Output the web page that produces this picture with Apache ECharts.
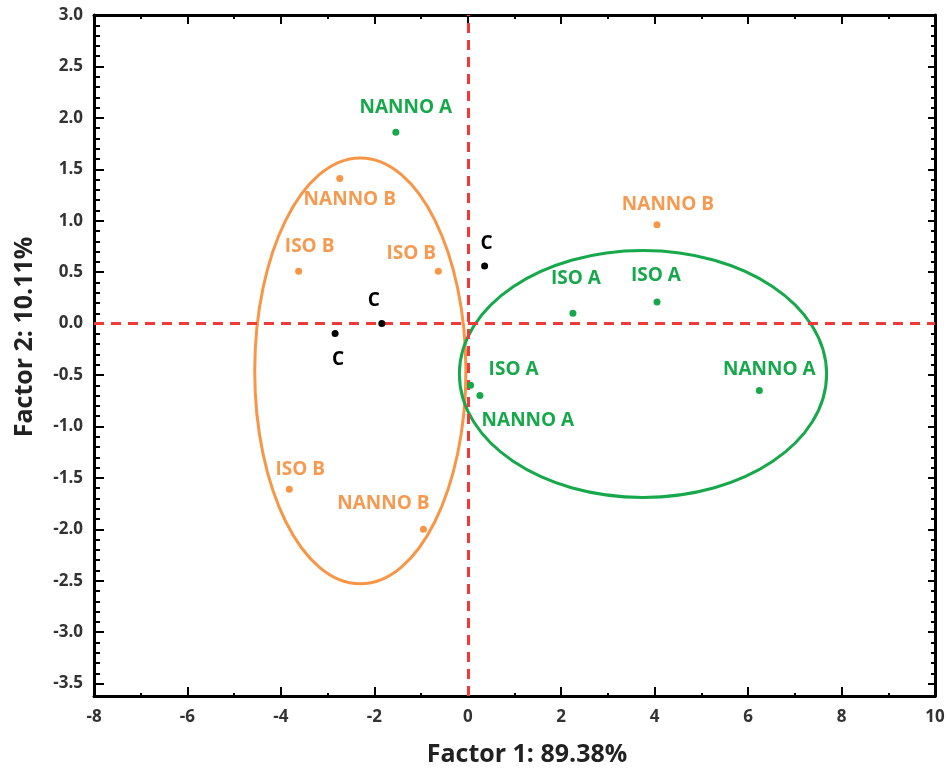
<!DOCTYPE html>
<html>
<head>
<meta charset="utf-8">
<script src="https://cdn.jsdelivr.net/npm/echarts@6/dist/echarts.min.js"></script>
<style>
html,body{margin:0;padding:0;background:#fff;}
#chart{width:950px;height:770px;}
</style>
</head>
<body>
<div id="chart"></div>
<script>
// ---- data ----
const greenNames = ['NANNO A', 'ISO A', 'ISO A', 'NANNO A', 'ISO A', 'NANNO A'];
const greenX = [-1.54, 2.25, 4.05, 6.24, 0.06, 0.26];
const greenY = [1.86, 0.10, 0.21, -0.65, -0.60, -0.70];

const orangeNames = ['NANNO B', 'ISO B', 'ISO B', 'NANNO B', 'ISO B', 'NANNO B'];
const orangeX = [-2.74, -3.62, -0.63, 4.05, -3.82, -0.95];
const orangeY = [1.41, 0.51, 0.51, 0.96, -1.61, -2.00];

const blackNames = ['C', 'C', 'C'];
const blackX = [0.36, -1.84, -2.84];
const blackY = [0.56, 0.00, -0.095];

// ellipses: centre x, centre y, semi-axis x, semi-axis y (data units)
const ellipseOrange = [-2.30, -0.46, 2.26, 2.07];
const ellipseGreen = [3.75, -0.49, 3.93, 1.20];

const xTicks = [-8, -6, -4, -2, 0, 2, 4, 6, 8, 10];
const yTicks = [3.0, 2.5, 2.0, 1.5, 1.0, 0.5, 0.0, -0.5, -1.0, -1.5, -2.0, -2.5, -3.0, -3.5];
const xTitle = 'Factor 1: 89.38%';
const yTitle = 'Factor 2: 10.11%';

// ---- label offsets (style, px) ----
const greenOffsets = [[10, -25], [3, -35], [-1, -26], [10, -21], [43, -16], [48, 25]];
const orangeOffsets = [[10, 21], [11, -25], [-27, -18], [11, -20], [11, -20], [-40, -26]];
const blackOffsets = [[2, -22], [-8, -23], [3, 26]];

const GREEN = '#17a84b';
const ORANGE = '#f79646';
const RED = '#f03a3a';
const FONT = '"Open Sans", "Liberation Sans", sans-serif';

const yMinorTicks = [];
for (let i = -35; i <= 30; i++) yMinorTicks.push(i / 10);

function pts(xs, ys, names, offs) {
  return xs.map((x, i) => ({
    value: [x, ys[i]],
    name: names[i],
    label: { offset: offs[i] }
  }));
}

const chart = echarts.init(document.getElementById('chart'), null, { renderer: 'canvas' });

const yBase = { type: 'value', min: -3.62, max: 3.0, splitLine: { show: false } };
const xBase = { type: 'value', min: -8, max: 10, interval: 2, splitLine: { show: false } };

function labelStyle(color) {
  return {
    show: true, position: 'inside', formatter: '{b}',
    color: color, fontFamily: FONT, fontWeight: 'bold', fontSize: 19
  };
}

function ellipseSeries(e, color) {
  return {
    type: 'custom', xAxisIndex: 0, yAxisIndex: 0, silent: true, z: 1,
    data: [e],
    renderItem: function (params, api) {
      const c = api.coord([api.value(0), api.value(1)]);
      const s = api.size([api.value(2), api.value(3)]);
      return {
        type: 'ellipse',
        shape: { cx: c[0], cy: c[1], rx: s[0], ry: s[1] },
        style: { fill: 'none', stroke: color, lineWidth: 3 }
      };
    }
  };
}

chart.setOption({
  animation: false,
  backgroundColor: '#fff',
  grid: { left: 94, right: 15, top: 15, bottom: 74, containLabel: false },
  xAxis: [
    Object.assign({}, xBase, {
      position: 'bottom',
      axisLine: { show: true, onZero: false, lineStyle: { color: '#000', width: 3 } },
      axisTick: { show: true, inside: true, length: 9, lineStyle: { color: '#000', width: 2 } },
      minorTick: { show: true, splitNumber: 2, length: 3, lineStyle: { color: '#000', width: 2 } },
      axisLabel: { show: true, margin: 13, color: '#333', fontFamily: FONT, fontWeight: 'bold', fontSize: 17,
        customValues: xTicks }
    }),
    Object.assign({}, xBase, {
      position: 'top',
      axisLine: { show: true, onZero: false, lineStyle: { color: '#000', width: 3 } },
      axisTick: { show: true, inside: true, length: 9, lineStyle: { color: '#000', width: 2 } },
      minorTick: { show: true, splitNumber: 2, length: 4, lineStyle: { color: '#000', width: 2 } },
      axisLabel: { show: false }
    })
  ],
  yAxis: [
    Object.assign({}, yBase, {
      position: 'left',
      axisLine: { show: true, onZero: false, lineStyle: { color: '#000', width: 3 } },
      axisTick: { show: true, inside: true, length: 10, customValues: yTicks, lineStyle: { color: '#000', width: 2 } },
      axisLabel: { show: true, margin: 11, color: '#333', fontFamily: FONT, fontWeight: 'bold', fontSize: 17,
        customValues: yTicks, formatter: v => Number(v).toFixed(1) }
    }),
    Object.assign({}, yBase, {
      position: 'left',
      axisLine: { show: false, onZero: false },
      axisTick: { show: true, inside: true, length: 6, customValues: yMinorTicks, lineStyle: { color: '#000', width: 2 } },
      axisLabel: { show: false }
    }),
    Object.assign({}, yBase, {
      position: 'right',
      axisLine: { show: true, onZero: false, lineStyle: { color: '#000', width: 3 } },
      axisTick: { show: true, inside: true, length: 7, customValues: yTicks, lineStyle: { color: '#000', width: 2 } },
      axisLabel: { show: false }
    }),
    Object.assign({}, yBase, {
      position: 'right',
      axisLine: { show: false, onZero: false },
      axisTick: { show: true, inside: true, length: 4, customValues: yMinorTicks, lineStyle: { color: '#000', width: 2 } },
      axisLabel: { show: false }
    })
  ],
  series: [
    ellipseSeries(ellipseOrange, ORANGE),
    ellipseSeries(ellipseGreen, GREEN),
    {
      type: 'scatter', xAxisIndex: 0, yAxisIndex: 0, symbolSize: 7, z: 3,
      itemStyle: { color: GREEN, opacity: 1 },
      label: labelStyle(GREEN),
      data: pts(greenX, greenY, greenNames, greenOffsets)
    },
    {
      type: 'scatter', xAxisIndex: 0, yAxisIndex: 0, symbolSize: 7, z: 3,
      itemStyle: { color: ORANGE, opacity: 1 },
      label: labelStyle('#f59a50'),
      data: pts(orangeX, orangeY, orangeNames, orangeOffsets)
    },
    {
      type: 'scatter', xAxisIndex: 0, yAxisIndex: 0, symbolSize: 7, z: 3,
      itemStyle: { color: '#000', opacity: 1 },
      label: labelStyle('#000'),
      data: pts(blackX, blackY, blackNames, blackOffsets),
      markLine: {
        silent: true, symbol: 'none', z: 2,
        label: { show: false },
        lineStyle: { color: RED, type: [10, 7], width: 3 },
        data: [{ xAxis: 0 }, { yAxis: 0 }]
      }
    }
  ],
  graphic: [
    {
      type: 'text', x: 527, y: 755,
      style: { text: xTitle, align: 'center', verticalAlign: 'middle', fill: '#222',
        font: 'bold 25px ' + FONT }
    },
    {
      type: 'text', x: 25, y: 337, rotation: Math.PI / 2,
      style: { text: yTitle, align: 'center', verticalAlign: 'middle', fill: '#222',
        font: 'bold 25px ' + FONT }
    }
  ]
});
</script>
</body>
</html>
